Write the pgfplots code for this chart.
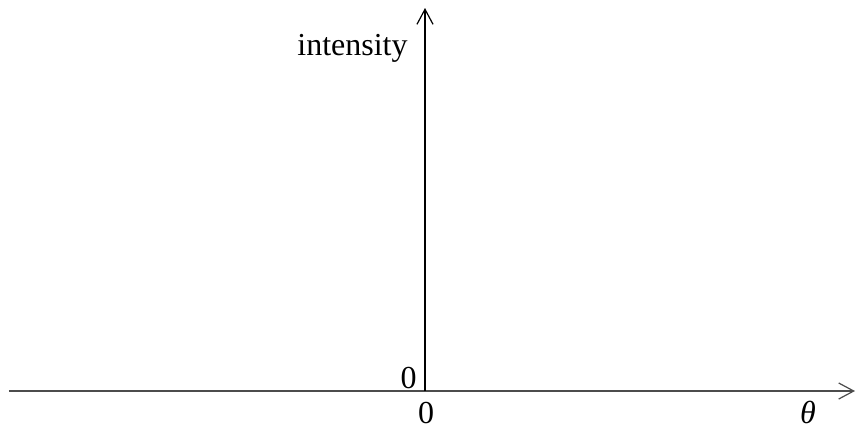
\documentclass[border=0pt]{standalone}
\usepackage{pgfplots}
\pgfplotsset{compat=1.18}
\usepackage{fontspec}
\setmainfont{Liberation Serif}
\usetikzlibrary{arrows.meta}
\begin{document}
\begin{tikzpicture}
\fontsize{16}{19}\selectfont
\begin{axis}[
  scale only axis,
  width=423pt, height=191.5pt,
  xmin=-416, xmax=430, ymin=0, ymax=383,
  axis lines=middle,
  axis line style={line width=0.6pt,-{Straight Barb[length=7.5pt,width=8pt,line width=0.6pt]}},
  x axis line style={draw=black!70},
  xtick=\empty, ytick=\empty,
  clip=false,
]
\addplot[draw=none] coordinates {(0,0)};
\node[anchor=base east,inner sep=0pt] at (axis cs:-17,336) {intensity};
\node[anchor=base east,inner sep=0pt] at (axis cs:-8,3) {0};
\node[anchor=base,inner sep=0pt] at (axis cs:1,-32) {0};
\node[anchor=base,inner sep=0pt] at (axis cs:383,-32) {\textit{θ}};
\coordinate (bl) at (axis cs:-425,-37);
\coordinate (tr) at (axis cs:432,391);
\end{axis}
\pgfresetboundingbox
\path (bl) rectangle (tr);
\end{tikzpicture}
\end{document}
